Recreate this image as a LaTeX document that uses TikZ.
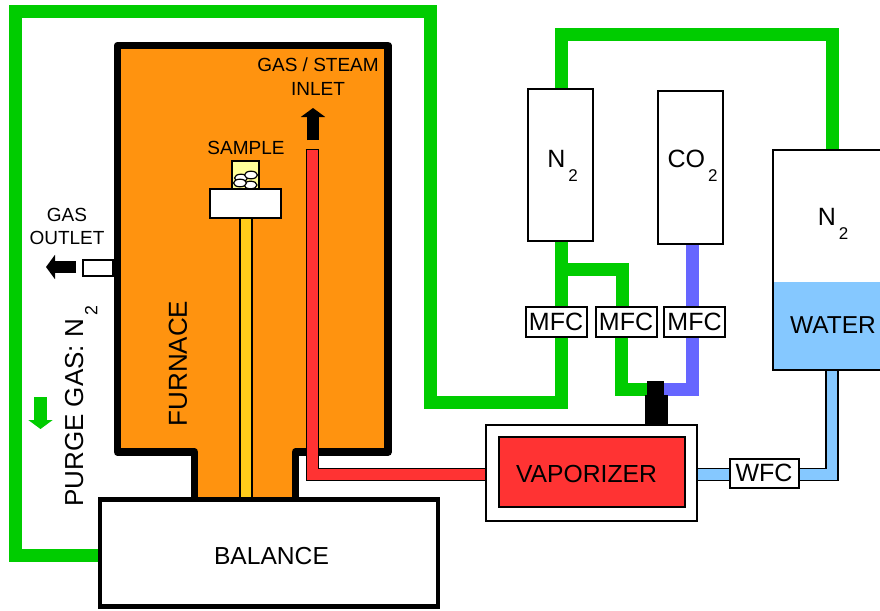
\documentclass[tikz,border=0pt]{standalone}
\usepackage{fontspec}
\setmainfont{Liberation Sans}
\usepackage{tikz}
\usetikzlibrary{arrows.meta,backgrounds}

\definecolor{furnacecol}{HTML}{FF930F}
\definecolor{greencol}{HTML}{00CC00}
\definecolor{violetcol}{HTML}{6666FF}
\definecolor{redcol}{HTML}{FF3333}
\definecolor{watercol}{HTML}{85C8FF}
\definecolor{stemcol}{HTML}{FFCC1A}
\definecolor{cruciblecol}{HTML}{FFFF99}

\newcommand{\fs}[1]{\fontsize{#1}{#1}\selectfont}
\newcommand{\subtwo}{\kern3pt\raisebox{-0.55em}{\scalebox{0.68}{2}}}

\tikzset{
    box/.style={draw,line width=2pt,fill=white,inner sep=0pt},
    ctrl/.style={box,minimum width=61pt,minimum height=30pt,font=\fs{25}},
    tag/.style={inner sep=0pt,align=center,font=\fs{19}},
    pipe/.style={line width=13pt,line join=miter},
    coated/.style={draw=black,line width=1.5pt,double=#1,double distance=10.5pt},
    flow/.style={line width=12.5pt,-{Triangle[width=24pt,length=9pt]}},
}

\begin{document}
\begin{tikzpicture}[x=1pt,y=-1pt]
                    \useasboundingbox (0,0) rectangle (880,610);
                    \clip (0,0) rectangle (880,610);

                    % furnace and sample
                    \draw[line width=7.5pt,fill=furnacecol,line join=round]
                        (117.5,45.5) -- (388,45.5) -- (388,452) -- (295.5,452) -- (295.5,505)
                        -- (194.5,505) -- (194.5,452) -- (117.5,452) -- cycle;
                    \node[draw,line width=1.5pt,fill=stemcol,minimum width=12pt,minimum height=282pt,inner sep=0pt] (stem) at (246,358) {};
                    \node[draw,line width=1.5pt,fill=cruciblecol,minimum width=27pt,minimum height=30pt,inner sep=0pt] (crucible) at (245.5,176) {};
                    \foreach \px/\py in {241/178,251/175,250.5/185,240/183}
                        \draw[line width=1.2pt,fill=white] (\px,\py) ellipse (6.5pt and 3.8pt);
                    \node[box,minimum width=71pt,minimum height=29pt] (holder) at (245.5,203.5) {};

                    \node[box,line width=4.5pt,minimum width=338pt,minimum height=107pt] (balance) at (269,553) {};
                    \node[tag,font=\fs{24.6}] (balancetag) at (271.5,556) {BALANCE};
                    \node[box,minimum width=211pt,minimum height=96pt] (vapbox) at (591.5,473) {};
                    \node[draw,line width=2pt,fill=redcol,minimum width=186pt,minimum height=70pt,inner sep=0pt] (vaporizer) at (592,472) {};
                    \node[tag,font=\fs{24.7}] (vaporizertag) at (586.5,474) {VAPORIZER};

                    % bottles
                    \node[box,minimum width=65pt,minimum height=152pt] (nbottle) at (560.5,165) {};
                    \node[tag,font=\fs{25}] (ntag) at (562.5,166) {N\subtwo};
                    \node[box,minimum width=65pt,minimum height=153pt] (cbottle) at (690.5,167.5) {};
                    \node[tag,font=\fs{25}] (ctag) at (692.5,166) {CO\subtwo};
                    \node[box,minimum width=118pt,minimum height=220pt] (saturator) at (832,260) {};
                    \node[fill=watercol,minimum width=116pt,minimum height=87pt,inner sep=0pt] (water) at (832,325.5) {};
                    \node[tag,font=\fs{24.5}] (watertag) at (833,325) {WATER};
                    \node[tag,font=\fs{25}] (satgas) at (833,224) {N\subtwo};

                    \node[ctrl] (mfca) at (556,321.5) {MFC};
                    \node[ctrl] (mfcb) at (626,321.5) {MFC};
                    \node[ctrl] (mfcc) at (694.5,321.5) {MFC};
                    \node[box,minimum width=69pt,minimum height=29pt,font=\fs{25}] (wfc) at (764,473) {WFC};

                    \node[fill=black,minimum width=17pt,minimum height=16pt,inner sep=0pt] (mixtop) at (655.5,389) {};
                    \node[fill=black,minimum width=23pt,minimum height=30pt,inner sep=0pt] (mix) at (656.5,410) {};

                    \begin{scope}[on background layer]
                        \draw[pipe,greencol] (balance.west |- 0,555) -- (15,555) -- (15,12) -- (430,12) -- (430,402) -- (561.5,402) -- (561.5,241);
                        \draw[pipe,greencol] (nbottle.north -| 561.5,0) -- (561.5,35) -- (832,35) -- (832,150);
                        \draw[pipe,greencol] (561.5,269) -- (622.5,269) -- (622.5,306);
                        \draw[pipe,greencol] (621,337) -- (621,389) -- (mixtop.west);
                        \draw[pipe,violetcol] (cbottle.south -| 692,0) -- (692,389) -- (mixtop.east);
                        \draw[coated=watercol] (saturator.south -| 832,0) -- (832,474.5) -- (vapbox.east |- 0,474.5);
                    \end{scope}

                    % steam line
                    \draw[coated=redcol] (312.5,149) -- (312.5,474.5) -- (vapbox.west |- 0,474.5);
                    \coordinate (inleta) at (305.7,149.5);
                    \coordinate (inletb) at (319.3,149.5);
                    \draw[line width=1.5pt] (inleta) -- (inletb);

                    % small parts and arrows
                    \node[box,minimum width=30pt,minimum height=16pt] (outlet) at (98,268) {};
                    \coordinate (outa) at (76,267);
                    \coordinate (outb) at (46,267);
                    \draw[flow] (outa) -- (outb);
                    \coordinate (ina) at (313,140);
                    \coordinate (inb) at (313,108);
                    \draw[flow] (ina) -- (inb);
                    \coordinate (purgea) at (40.5,397);
                    \coordinate (purgeb) at (40.5,429);
                    \draw[flow,greencol] (purgea) -- (purgeb);

                    \node[tag] (inlettag) at (318,76.5) {GAS / STEAM\\[5pt]INLET};
                    \node[tag] (sampletag) at (246,148) {SAMPLE};
                    \node[tag] (outlettag) at (67,226.5) {GAS\\[4pt]OUTLET};
                    \node[tag,font=\fs{26},rotate=90] (furnacetag) at (178,363.5) {FURNACE};
                    \node[tag,font=\fs{26},rotate=90,anchor=base west] (purgetag) at (83,507) {PURGE GAS: N\subtwo};
                \end{tikzpicture}
\end{document}
